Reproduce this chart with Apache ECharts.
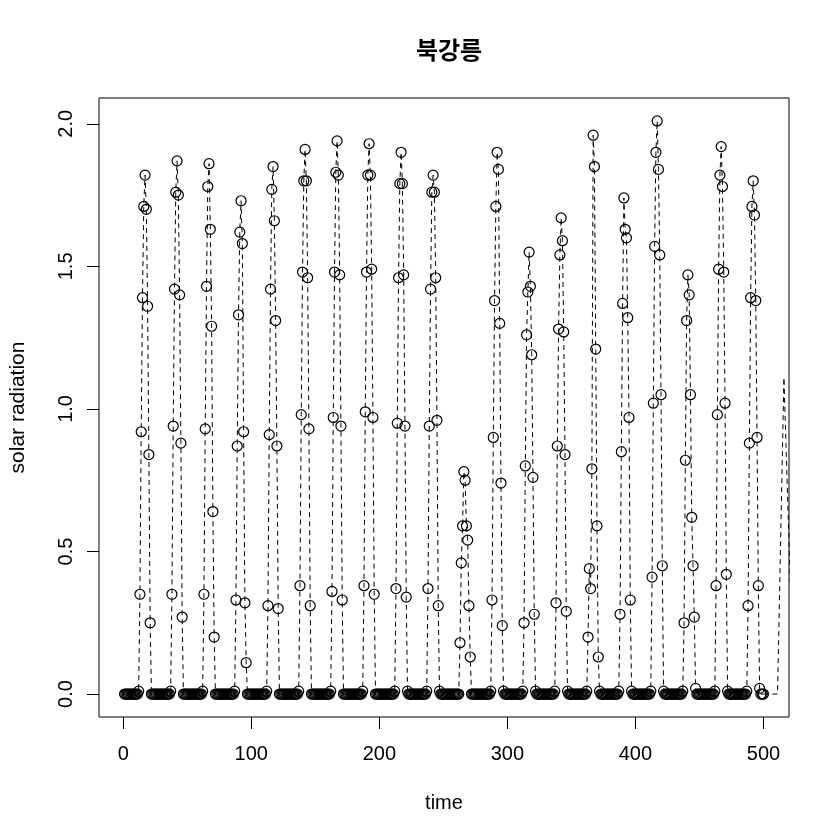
<!DOCTYPE html>
<html>
<head>
<meta charset="utf-8">
<script src="https://cdn.jsdelivr.net/npm/echarts@6/dist/echarts.min.js"></script>
<style>
html,body{margin:0;padding:0;background:#fff;}
#chart{width:840px;height:840px;}
</style>
</head>
<body>
<div id="chart"></div>
<script>
// Hourly solar radiation, 25 readings per day
const day01 = [0,0,0,0,0,0,0,0,0,0,0,0.01,0.35,0.92,1.39,1.71,1.82,1.70,1.36,0.84,0.25,0,0,0,0];
const day02 = [0,0,0,0,0,0,0,0,0,0,0,0.01,0.35,0.94,1.42,1.76,1.87,1.75,1.40,0.88,0.27,0,0,0,0];
const day03 = [0,0,0,0,0,0,0,0,0,0,0,0.01,0.35,0.93,1.43,1.78,1.86,1.63,1.29,0.64,0.20,0,0,0,0];
const day04 = [0,0,0,0,0,0,0,0,0,0,0,0.01,0.33,0.87,1.33,1.62,1.73,1.58,0.92,0.32,0.11,0,0,0,0];
const day05 = [0,0,0,0,0,0,0,0,0,0,0,0.01,0.31,0.91,1.42,1.77,1.85,1.66,1.31,0.87,0.30,0,0,0,0];
const day06 = [0,0,0,0,0,0,0,0,0,0,0,0.01,0.38,0.98,1.48,1.80,1.91,1.80,1.46,0.93,0.31,0,0,0,0];
const day07 = [0,0,0,0,0,0,0,0,0,0,0,0.01,0.36,0.97,1.48,1.83,1.94,1.82,1.47,0.94,0.33,0,0,0,0];
const day08 = [0,0,0,0,0,0,0,0,0,0,0,0.01,0.38,0.99,1.48,1.82,1.93,1.82,1.49,0.97,0.35,0,0,0,0];
const day09 = [0,0,0,0,0,0,0,0,0,0,0,0.01,0.37,0.95,1.46,1.79,1.90,1.79,1.47,0.94,0.34,0.01,0,0,0];
const day10 = [0,0,0,0,0,0,0,0,0,0,0,0.01,0.37,0.94,1.42,1.76,1.82,1.76,1.46,0.96,0.31,0.01,0,0,0];
const day11 = [0,0,0,0,0,0,0,0,0,0,0,0,0.18,0.46,0.59,0.78,0.75,0.59,0.54,0.31,0.13,0,0,0,0];
const day12 = [0,0,0,0,0,0,0,0,0,0,0,0.01,0.33,0.90,1.38,1.71,1.90,1.84,1.30,0.74,0.24,0.01,0,0,0];
const day13 = [0,0,0,0,0,0,0,0,0,0,0,0.01,0.25,0.80,1.26,1.41,1.55,1.43,1.19,0.76,0.28,0.01,0,0,0];
const day14 = [0,0,0,0,0,0,0,0,0,0,0,0.01,0.32,0.87,1.28,1.54,1.67,1.59,1.27,0.84,0.29,0.01,0,0,0];
const day15 = [0,0,0,0,0,0,0,0,0,0,0,0.01,0.20,0.44,0.37,0.79,1.96,1.85,1.21,0.59,0.13,0.01,0,0,0];
const day16 = [0,0,0,0,0,0,0,0,0,0,0,0.01,0.28,0.85,1.37,1.74,1.63,1.60,1.32,0.97,0.33,0.01,0,0,0];
const day17 = [0,0,0,0,0,0,0,0,0,0,0,0.01,0.41,1.02,1.57,1.90,2.01,1.84,1.54,1.05,0.45,0.01,0,0,0];
const day18 = [0,0,0,0,0,0,0,0,0,0,0,0.01,0.25,0.82,1.31,1.47,1.40,1.05,0.62,0.45,0.27,0.02,0,0,0];
const day19 = [0,0,0,0,0,0,0,0,0,0,0,0.01,0.38,0.98,1.49,1.82,1.92,1.78,1.48,1.02,0.42,0.01,0,0,0];
const day20 = [0,0,0,0,0,0,0,0,0,0,0,0.01,0.31,0.88,1.39,1.71,1.80,1.68,1.38,0.90,0.38,0.02,0,0,0];
const days = [day01,day02,day03,day04,day05,day06,day07,day08,day09,day10,
              day11,day12,day13,day14,day15,day16,day17,day18,day19,day20];

// continuation of the line beyond the plotted points (no markers)
const tailTime = [500, 511, 516, 521];
const tailValue = [0, 0, 1.11, 0.38];

const xTicks = [0, 100, 200, 300, 400, 500];
const yTicks = [0, 0.5, 1.0, 1.5, 2.0];

const titleText = '북강릉';
const xName = 'time';
const yName = 'solar radiation';

// build series data: time index 1..500
const radiation = [].concat(...days);
const pts = radiation.map((v, i) => [i + 1, v]);
const tail = tailTime.map((t, i) => [t, tailValue[i]]);

const n = radiation.length;
const xr = n - 1, xmin = 1 - 0.04 * xr, xmax = n + 0.04 * xr;
const ymaxData = Math.max(...radiation);
const ymin = -0.04 * ymaxData, ymax = ymaxData * 1.04;

const font = 'Liberation Sans, Arial, Helvetica, sans-serif';
const chart = echarts.init(document.getElementById('chart'), null, {renderer: 'canvas'});
chart.setOption({
  animation: false,
  backgroundColor: '#fff',
  title: {
    text: titleText,
    left: 444,
    top: 33,
    textAlign: 'center',
    textStyle: {fontFamily: 'Noto Sans CJK KR', fontWeight: 'bold', fontSize: 24, color: '#000'}
  },
  grid: {left: 98, right: 51, top: 98, bottom: 123, show: true, borderColor: '#000', borderWidth: 1, backgroundColor: 'transparent'},
  xAxis: {
    type: 'value', min: xmin, max: xmax,
    name: xName, nameLocation: 'middle', nameGap: 76,
    nameTextStyle: {fontFamily: font, fontSize: 20, color: '#000'},
    axisLine: {show: false, onZero: false},
    splitLine: {show: false},
    axisTick: {show: true, inside: false, customValues: xTicks, length: 12, lineStyle: {color: '#000', width: 1}},
    axisLabel: {customValues: xTicks, margin: 27, fontFamily: font, fontSize: 20, color: '#000',
      formatter: v => String(Math.round(v))}
  },
  yAxis: {
    type: 'value', min: ymin, max: ymax,
    name: yName, nameLocation: 'middle', nameGap: 70, nameRotate: 90,
    nameTextStyle: {fontFamily: font, fontSize: 21, color: '#000'},
    axisLine: {show: false, onZero: false},
    splitLine: {show: false},
    axisTick: {show: true, inside: false, customValues: yTicks, length: 12, lineStyle: {color: '#000', width: 1}},
    axisLabel: {customValues: yTicks, rotate: 90, margin: 23, fontFamily: font, fontSize: 20, color: '#000',
      formatter: v => v.toFixed(1)}
  },
  series: [
    {
      type: 'line', data: pts,
      symbol: 'circle', symbolSize: 10, showSymbol: true, showAllSymbol: true,
      itemStyle: {color: 'rgba(0,0,0,0)', borderColor: '#000', borderWidth: 1.2},
      lineStyle: {color: '#000', width: 1, type: [5, 4]},
      emphasis: {disabled: true}, clip: true
    },
    {
      type: 'line', data: tail, showSymbol: false, symbol: 'none',
      lineStyle: {color: '#000', width: 1, type: [5, 4]},
      emphasis: {disabled: true}, clip: true
    }
  ]
});
</script>
</body>
</html>
